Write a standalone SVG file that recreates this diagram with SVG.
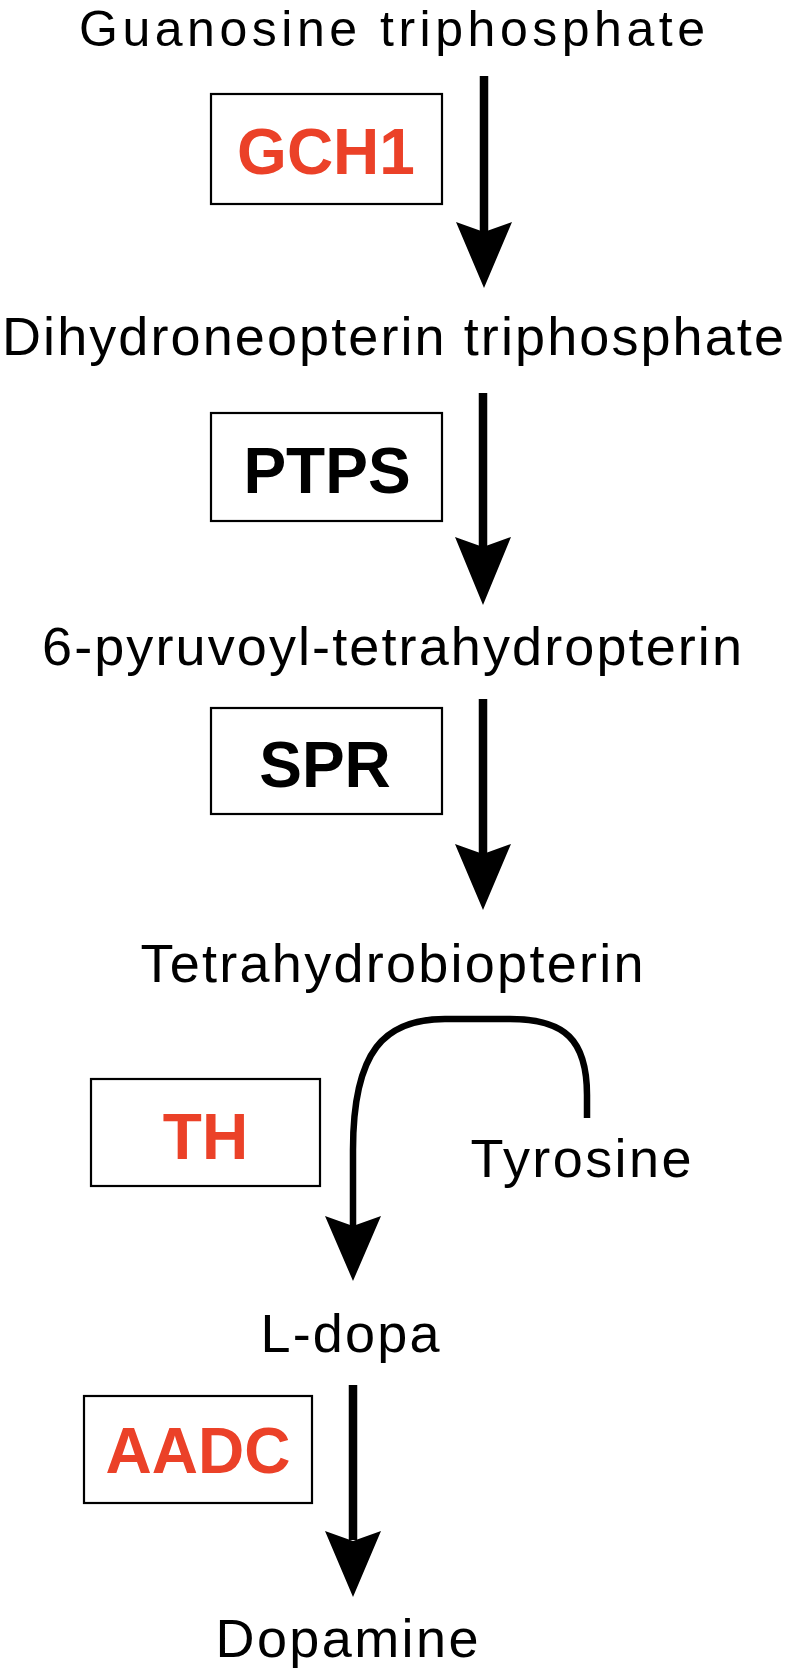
<svg xmlns="http://www.w3.org/2000/svg" width="787" height="1671" viewBox="0 0 787 1671">
<style>
.t{font-family:"Liberation Sans",Arial,sans-serif;font-size:54px;fill:#000;text-anchor:middle}
.e{font-family:"Liberation Sans",Arial,sans-serif;font-size:64px;font-weight:bold;text-anchor:middle}
.red{fill:#EB4128}
.blk{fill:#000}
.box{fill:#fff;stroke:#000;stroke-width:2.2}
.shaft{stroke:#000;stroke-width:8.5;fill:none}
.curve{stroke:#000;stroke-width:6.5;fill:none}
.head{fill:#000}
</style>
<rect width="787" height="1671" fill="#fff"/>
<g id="n-gtp"><text class="t" x="392" y="46" font-size="50" textLength="626" lengthAdjust="spacing" style="font-size:50px">Guanosine triphosphate</text></g>
<g id="n-dnp"><text class="t" x="393" y="355" textLength="782" lengthAdjust="spacing">Dihydroneopterin triphosphate</text></g>
<g id="n-ptp"><text class="t" x="392" y="665" textLength="700" lengthAdjust="spacing">6-pyruvoyl-tetrahydropterin</text></g>
<g id="n-bh4"><text class="t" x="392" y="982" textLength="503" lengthAdjust="spacing">Tetrahydrobiopterin</text></g>
<g id="n-tyr"><text class="t" x="581" y="1177" textLength="221" lengthAdjust="spacing">Tyrosine</text></g>
<g id="n-ldopa"><text class="t" x="350" y="1352" textLength="179" lengthAdjust="spacing">L-dopa</text></g>
<g id="n-da"><text class="t" x="347" y="1657" textLength="263" lengthAdjust="spacing">Dopamine</text></g>
<g id="e-gch1"><rect class="box" x="211" y="94" width="231" height="110"/><text class="e red" x="326" y="174">GCH1</text></g>
<g id="e-ptps"><rect class="box" x="211" y="413" width="231" height="108"/><text class="e blk" x="327" y="493">PTPS</text></g>
<g id="e-spr"><rect class="box" x="211" y="708" width="231" height="106"/><text class="e blk" x="325" y="787">SPR</text></g>
<g id="e-th"><rect class="box" x="91" y="1079" width="229" height="107"/><text class="e red" x="205.5" y="1159">TH</text></g>
<g id="e-aadc"><rect class="box" x="84" y="1396" width="228" height="107"/><text class="e red" x="198" y="1473">AADC</text></g>
<g id="connectors">
<line class="shaft" x1="484" y1="76" x2="484" y2="235"/>
<polygon class="head" points="484,288 456,222 484,232 512,222"/>
<line class="shaft" x1="483" y1="393" x2="483" y2="550"/>
<polygon class="head" points="483,605 455,537 483,547 511,537"/>
<line class="shaft" x1="483" y1="699" x2="483" y2="855"/>
<polygon class="head" points="483,910 455,844 483,854 511,844"/>
<path class="curve" d="M587 1118 L587 1095 C587 1040 565 1019 510 1019 L445 1019 C385 1019 353 1050 353 1150 L353 1228"/>
<polygon class="head" points="353,1281 325,1216 353,1226 381,1216"/>
<line class="shaft" x1="353" y1="1385" x2="353" y2="1540"/>
<polygon class="head" points="353,1597 325,1531 353,1541 381,1531"/>
</g>
</svg>
